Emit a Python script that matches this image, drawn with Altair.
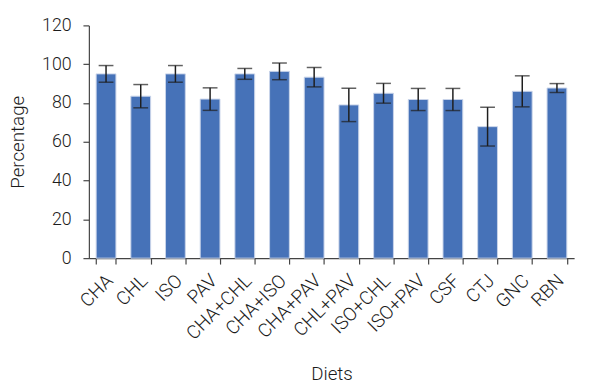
import altair as alt
import pandas as pd

diets = ["CHA", "CHL", "ISO", "PAV", "CHA+CHL", "CHA+ISO", "CHA+PAV", "CHL+PAV",
         "ISO+CHL", "ISO+PAV", "CSF", "CTJ", "GNC", "RBN"]
means = [95.0, 83.5, 95.0, 82.0, 95.0, 96.3, 93.3, 79.0, 85.0, 81.8, 81.8, 67.8, 86.0, 87.7]
errs = [4.3, 6.0, 4.3, 5.8, 2.8, 4.3, 5.0, 8.6, 5.1, 5.7, 5.7, 10.0, 8.0, 2.3]

df = pd.DataFrame({"diet": diets, "mean": means, "err": errs})
df["lo"] = df["mean"] - df["err"]
df["hi"] = df["mean"] + df["err"]

FONT = "Roboto"
TXT = "#1c1c1c"

xax = alt.Axis(labelAngle=-45, tickBand="extent", titleY=123, titleBaseline="alphabetic",
               labelOverlap=False, labelPadding=7, labelOffset=-3, labelFontSize=19)
yax = alt.Axis(values=[0, 20, 40, 60, 80, 100, 120], titleX=-72, titleBaseline="middle",
               grid=False, labelOverlap=False, labelPadding=12, labelFontSize=18)
xsc = alt.Scale(paddingInner=0.43, paddingOuter=0.21)
ysc = alt.Scale(domain=[0, 120])


def X():
    return alt.X("diet:N", sort=diets, title="Diets", scale=xsc, axis=xax)


def Y(field):
    return alt.Y(field, title="Percentage", scale=ysc, axis=yax)


base = alt.Chart(df)
bars = base.mark_bar(color="#4672B8", stroke="#c9d4ea", strokeWidth=1).encode(x=X(), y=Y("mean:Q"))
rules = base.mark_rule(color="#1e1e1e", strokeWidth=1.5).encode(x=X(), y=Y("lo:Q"), y2="hi:Q")
caps_hi = base.mark_tick(color="#1e1e1e", thickness=1.5, size=15, orient="horizontal").encode(
    x=X(), y=Y("hi:Q"))
caps_lo = base.mark_tick(color="#1e1e1e", thickness=1.5, size=15, orient="horizontal").encode(
    x=X(), y=Y("lo:Q"))

chart = (bars + rules + caps_hi + caps_lo).properties(
    width=492, height=236,
    autosize=alt.AutoSizeParams(type="none"),
    padding={"left": 82, "top": 15, "right": 8, "bottom": 127},
).configure_view(stroke=None).configure_axis(
    labelFont=FONT, titleFont=FONT, titleFontSize=19,
    labelFontWeight=300, titleFontWeight=300,
    labelColor=TXT, titleColor=TXT,
    domainColor="#444444", tickColor="#444444", tickSize=6, domainWidth=1.2, tickWidth=1.2,
).configure_axisX(titleX=246)

chart.save("out.html", embed_options={"renderer": "svg", "actions": False})
